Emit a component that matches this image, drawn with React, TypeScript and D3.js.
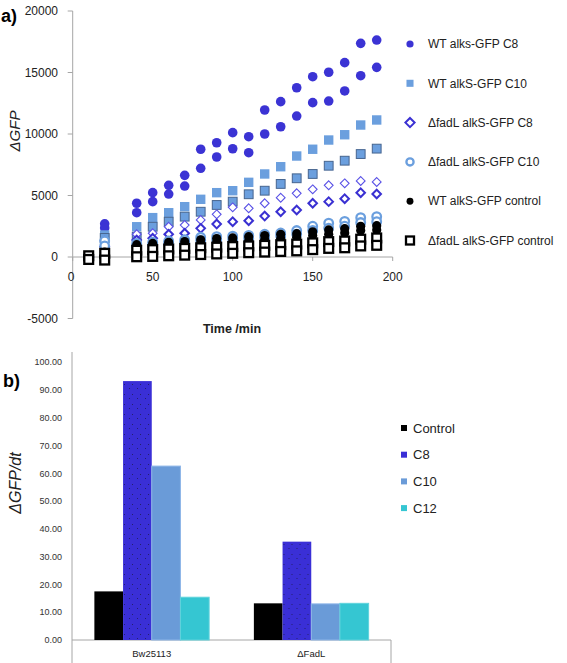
import React from "react";
import * as d3 from "d3";

// ---------- Data: panel a ----------
const times = [10, 20, 40, 50, 60, 70, 80, 90, 100, 110, 120, 130, 140, 150, 160, 170, 180, 190];
const wtC8A = [50, 2700, 4370, 5230, 5830, 6640, 8760, 9290, 10110, 9780, 11950, 12630, 13760, 14660, 15020, 15800, 17370, 17640];
const wtC8B = [0, 2360, 3600, 4500, 5120, 5770, 7210, 8130, 8800, 8480, 10000, 10590, 11460, 12550, 12680, 13500, 14740, 15420];
const wtC10A = [50, 1790, 2460, 3200, 3600, 4090, 4690, 5230, 5390, 6070, 6750, 7340, 8210, 8760, 9510, 9940, 10730, 11140];
const wtC10B = [0, 1550, 1650, 2460, 2870, 3280, 3680, 4230, 4500, 5100, 5390, 5940, 6400, 6750, 7420, 7830, 8370, 8810];
const fadC8A = [0, 1330, 1850, 1930, 2460, 2600, 3010, 3470, 4040, 3960, 4370, 4820, 5180, 5500, 5830, 5990, 6180, 6100];
const fadC8B = [0, 840, 1380, 1520, 1850, 1930, 2330, 2680, 2870, 2950, 3330, 3680, 3820, 4370, 4500, 4740, 5230, 5120];
const fadC10A = [0, 1300, 1100, 1200, 1300, 1400, 1600, 1650, 1700, 1750, 1850, 1950, 2150, 2500, 2750, 2900, 3200, 3280];
const fadC10B = [-50, 900, 900, 1000, 1100, 1200, 1350, 1400, 1450, 1500, 1600, 1700, 1850, 2150, 2350, 2500, 2800, 2870];
const wtCtlA = [0, 400, 1000, 1100, 1200, 1250, 1400, 1500, 1550, 1650, 1750, 1850, 1900, 2050, 2200, 2300, 2500, 2550];
const wtCtlB = [-100, 200, 800, 900, 950, 1000, 1100, 1200, 1250, 1300, 1400, 1500, 1600, 1750, 1850, 1950, 2150, 2200];
const fadCtlA = [100, 300, 550, 600, 650, 700, 750, 800, 850, 900, 950, 1000, 1050, 1150, 1250, 1300, 1450, 1550];
const fadCtlB = [-200, -250, 20, 50, 100, 150, 200, 250, 300, 350, 400, 450, 500, 600, 700, 750, 900, 950];

const legendA = [
  "WT alks-GFP C8",
  "WT alkS-GFP C10",
  "ΔfadL alkS-GFP C8",
  "ΔfadL alkS-GFP C10",
  "WT alkS-GFP control",
  "ΔfadL alkS-GFP control",
];
const yTicksA = [-5000, 0, 5000, 10000, 15000, 20000];
const xTicksA = [0, 50, 100, 150, 200];

// ---------- Data: panel b ----------
const strains = ["Bw25113", "ΔFadL"];
const conditions = ["Control", "C8", "C10", "C12"];
const rateBw = [17.5, 93.2, 62.6, 15.4];
const rateFad = [13.2, 35.4, 13.0, 13.2];
const yTicksB = [0, 10, 20, 30, 40, 50, 60, 70, 80, 90, 100];

const BLUE = "#3B33D4";
const LBLUE = "#6B9FDE";
const FONT = "'Liberation Sans', Arial, sans-serif";

const barColors = ["#000000", "#3A2FD6", "#6A9BD8", "#35C6D2"];

type Mk = "dot" | "sq" | "sqB" | "diaT" | "diaB" | "ocirc" | "bdot" | "osq";

function Marker({ kind, cx, cy, legend }: { kind: Mk; cx: number; cy: number; legend?: boolean }) {
  const s = legend ? 0.75 : 1;
  switch (kind) {
    case "dot":
      return <circle cx={cx} cy={cy} r={4.8 * s} fill={BLUE} />;
    case "sq": {
      const h = 4.7 * s;
      return <rect x={cx - h} y={cy - h} width={2 * h} height={2 * h} fill={LBLUE} />;
    }
    case "sqB": {
      const h = 4.4;
      return <rect x={cx - h} y={cy - h} width={2 * h} height={2 * h} fill={LBLUE} stroke="#46658F" strokeWidth={1} />;
    }
    case "diaT": {
      const h = 4.4;
      return (
        <path d={`M${cx},${cy - h}L${cx + h},${cy}L${cx},${cy + h}L${cx - h},${cy}Z`} fill="#fff" stroke="#5A52E6" strokeWidth={1.1} />
      );
    }
    case "diaB": {
      const h = legend ? 4.6 : 4.3;
      return (
        <path d={`M${cx},${cy - h}L${cx + h},${cy}L${cx},${cy + h}L${cx - h},${cy}Z`} fill="#fff" stroke="#3A30D2" strokeWidth={2} />
      );
    }
    case "ocirc":
      return <circle cx={cx} cy={cy} r={legend ? 3.6 : 4.3} fill="#fff" stroke={LBLUE} strokeWidth={2.3} />;
    case "bdot":
      return <circle cx={cx} cy={cy} r={4.6 * s} fill="#000" />;
    case "osq": {
      const h = legend ? 4 : 4.4;
      return <rect x={cx - h} y={cy - h} width={2 * h} height={2 * h} fill="#fff" stroke="#000" strokeWidth={2.3} />;
    }
  }
  return null;
}

const seriesA: { data: number[]; kind: Mk }[] = [
  { data: wtC8A, kind: "dot" },
  { data: wtC8B, kind: "dot" },
  { data: wtC10A, kind: "sq" },
  { data: wtC10B, kind: "sqB" },
  { data: fadC8A, kind: "diaT" },
  { data: fadC8B, kind: "diaB" },
  { data: fadC10A, kind: "ocirc" },
  { data: fadC10B, kind: "ocirc" },
  { data: wtCtlA, kind: "bdot" },
  { data: wtCtlB, kind: "bdot" },
  { data: fadCtlA, kind: "osq" },
  { data: fadCtlB, kind: "osq" },
];
const legendKinds: Mk[] = ["dot", "sq", "diaB", "ocirc", "bdot", "osq"];

export default function App() {
  // Panel a scales
  const x = d3.scaleLinear().domain([0, 200]).range([72.7, 392.7]);
  const y = d3.scaleLinear().domain([-5000, 20000]).range([318.5, 11]);
  const axisColor = "#A6A6A6";

  // Panel b scales
  const yb = d3.scaleLinear().domain([0, 100]).range([640, 362.2]);
  const xb = d3.scaleBand().domain(strains).range([72, 391]).padding(0);
  const x1 = d3.scaleBand().domain(conditions).range([0, xb.bandwidth()]).paddingInner(0).paddingOuter(0.78);
  const rates = [rateBw, rateFad];

  return (
    <svg width={567} height={663} style={{ position: "absolute", left: 0, top: 0, background: "#fff" }} fontFamily={FONT}>
      <defs>
        <pattern id="dots" width="8" height="10" patternUnits="userSpaceOnUse">
          <rect x="1" y="8" width="1" height="1" fill="#1a1a40" />
          <rect x="4" y="4" width="1" height="1" fill="#1a1a40" />
        </pattern>
      </defs>
      <rect width={567} height={663} fill="#fff" />

      {/* ---------- Panel a ---------- */}
      <text x={1} y={22} fontSize={18} fontWeight="bold">a)</text>
      <line x1={x(0)} x2={x(0)} y1={y(-5000)} y2={y(20000)} stroke={axisColor} strokeWidth={1} />
      {yTicksA.map((t) => (
        <g key={t}>
          <line x1={x(0) - 5} x2={x(0)} y1={y(t)} y2={y(t)} stroke={axisColor} />
          <text x={58} y={y(t)} dy="0.36em" fontSize={12} textAnchor="end" fill="#222">{t}</text>
        </g>
      ))}
      <line x1={x(0)} x2={x(200)} y1={y(0)} y2={y(0)} stroke={axisColor} strokeWidth={1} />
      {xTicksA.map((t) => (
        <g key={t}>
          <line x1={x(t)} x2={x(t)} y1={y(0)} y2={y(0) + 4} stroke={axisColor} />
          <text x={x(t) - (t === 0 ? 1.5 : 0)} y={281} fontSize={12} textAnchor="middle" fill="#222">{t}</text>
        </g>
      ))}
      <text x={232} y={333} fontSize={12.5} fontWeight="bold" textAnchor="middle" fill="#222">Time /min</text>
      <text transform={`translate(20,131) rotate(-90)`} fontSize={15} fontStyle="italic" textAnchor="middle" fill="#222">ΔGFP</text>

      {seriesA.map((s, si) => (
        <g key={si}>
          {s.data.map((v, i) => (
            <Marker key={i} kind={s.kind} cx={x(times[i])} cy={y(v)} />
          ))}
        </g>
      ))}

      {legendA.map((name, i) => {
        const cy = 44 + i * 39.3;
        return (
          <g key={name}>
            <Marker kind={legendKinds[i]} cx={410} cy={cy} legend />
            <text x={428} y={cy + 4.2} fontSize={12} fill="#222">{name}</text>
          </g>
        );
      })}

      {/* ---------- Panel b ---------- */}
      <text x={3} y={387} fontSize={18} fontWeight="bold">b)</text>
      <line x1={72} x2={72} y1={352} y2={663} stroke={axisColor} />
      <line x1={72} x2={391} y1={yb(0)} y2={yb(0)} stroke={axisColor} />
      <line x1={391} x2={391} y1={yb(0)} y2={663} stroke={axisColor} />
      {yTicksB.map((t) => (
        <text key={t} x={62} y={yb(t)} dy="0.36em" fontSize={9} textAnchor="end" fill="#333">{t.toFixed(2)}</text>
      ))}
      <text transform={`translate(21,483) rotate(-90)`} fontSize={16} fontStyle="italic" textAnchor="middle" fill="#222">ΔGFP/dt</text>

      {strains.map((st, si) => (
        <g key={st} transform={`translate(${xb(st)},0)`}>
          {conditions.map((c, ci) => {
            const v = rates[si][ci];
            const bx = x1(c) as number;
            const w = x1.bandwidth();
            return (
              <g key={c}>
                <rect x={bx} y={yb(v)} width={w} height={yb(0) - yb(v)} fill={barColors[ci]}
                  stroke={ci === 2 ? "#8DB5E8" : ci === 3 ? "#5FD3DC" : "none"} strokeWidth={ci >= 2 ? 1 : 0} />
                {ci === 1 && <rect x={bx} y={yb(v)} width={w} height={yb(0) - yb(v)} fill="url(#dots)" opacity={0.7} />}
              </g>
            );
          })}
          <text x={xb.bandwidth() / 2} y={657} fontSize={9.5} textAnchor="middle" fill="#222">{st}</text>
        </g>
      ))}

      {conditions.map((c, i) => {
        const cy = 428 + i * 26.7;
        return (
          <g key={c}>
            <rect x={401} y={cy - 3} width={6} height={6} fill={barColors[i]} />
            <text x={413} y={cy + 4.5} fontSize={13} fill="#222">{c}</text>
          </g>
        );
      })}
    </svg>
  );
}
